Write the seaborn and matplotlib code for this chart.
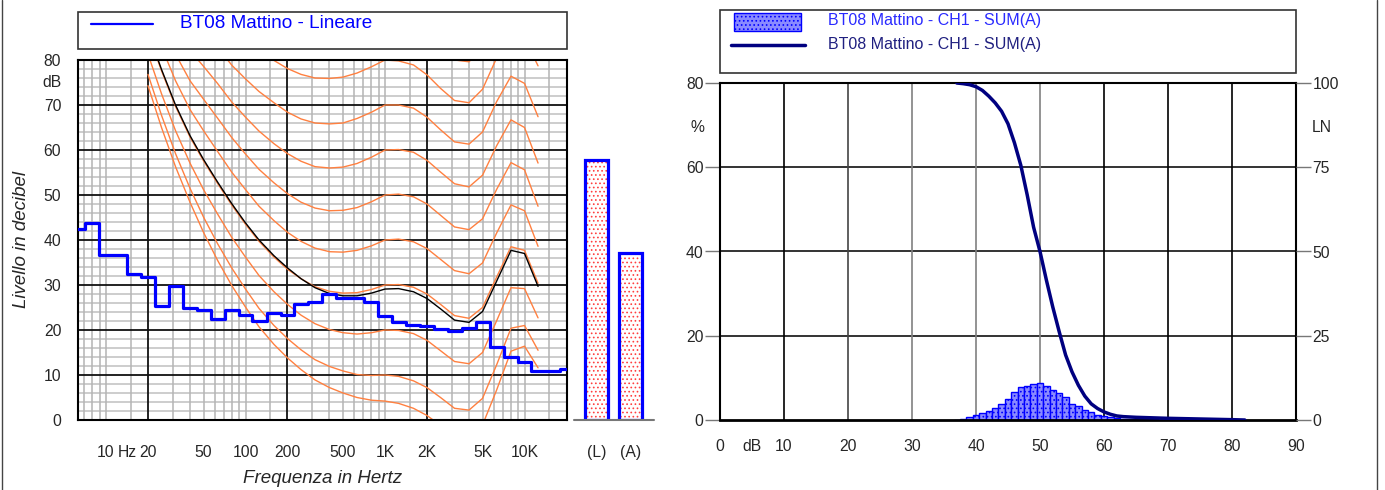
import numpy as np
import matplotlib
matplotlib.use("Agg")
import matplotlib.pyplot as plt
import matplotlib.transforms as mtrans
from matplotlib.patches import Rectangle
from matplotlib.lines import Line2D
from matplotlib.ticker import FixedLocator, NullFormatter
import seaborn as sns

sns.set_style("white")
plt.rcParams["font.family"] = ["Liberation Sans", "DejaVu Sans"]
plt.rcParams["hatch.linewidth"] = 0.7

# ---------------- data: left panel (1/3 octave spectrum) ----------------
band_centers = [6.3, 8, 10, 12.5, 16, 20, 25, 31.5, 40, 50, 63, 80, 100, 125, 160, 200,
                250, 315, 400, 500, 630, 800, 1000, 1250, 1600, 2000, 2500, 3150, 4000,
                5000, 6300, 8000, 10000, 12500, 16000, 20000]
band_levels = [42.4, 43.8, 36.7, 36.7, 32.5, 31.8, 25.4, 29.7, 24.9, 24.4, 22.4, 24.5, 23.3,
               22.0, 23.8, 23.3, 25.8, 26.3, 27.9, 27.0, 27.0, 26.3, 23.2, 21.7, 21.2, 20.8,
               20.3, 19.8, 20.5, 21.8, 16.3, 13.9, 12.8, 11.0, 11.0, 11.3]
total_labels = ["(L)", "(A)"]
total_levels = [57.8, 37.2]

# equal loudness contours
contour_freqs = [20, 25, 31.5, 40, 50, 63, 80, 100, 125, 160, 200, 250, 315, 400, 500, 630,
                 800, 1000, 1250, 1600, 2000, 2500, 3150, 4000, 5000, 6300, 8000, 10000, 12500]
contour_maf = [74.3, 65.0, 56.3, 48.4, 41.7, 35.5, 29.8, 25.1, 20.7, 16.8, 13.8, 11.2, 8.9, 7.2,
               6.0, 5.0, 4.4, 4.2, 3.7, 2.6, 1.0, -1.2, -3.6, -3.9, -1.1, 6.6, 15.3, 16.4, 11.6]
contour_10 = [76.8, 67.7, 59.2, 51.5, 45.1, 39.2, 33.7, 29.1, 24.8, 21.0, 18.1, 15.6, 13.4, 11.9,
              10.9, 10.1, 9.9, 10.0, 9.7, 8.7, 7.2, 5.0, 2.6, 2.2, 4.8, 12.2, 20.4, 21.0, 15.5]
contour_20 = [81.3, 72.5, 64.3, 57.1, 51.2, 45.8, 40.5, 36.2, 32.1, 28.5, 25.7, 23.3, 21.4, 20.1,
              19.4, 19.1, 19.4, 20.0, 19.9, 19.2, 17.7, 15.4, 13.0, 12.5, 15.0, 22.0, 29.4, 29.2, 22.7]
contour_30 = [86.0, 77.6, 69.7, 62.9, 57.6, 52.6, 47.7, 43.5, 39.7, 36.2, 33.5, 31.4, 29.6, 28.6,
              28.2, 28.3, 29.0, 30.0, 30.1, 29.5, 28.0, 25.7, 23.2, 22.6, 25.0, 31.7, 38.5, 37.7, 30.4]
contour_40 = [91.0, 82.9, 75.4, 69.0, 64.3, 59.7, 55.0, 51.2, 47.5, 44.3, 41.7, 39.7, 38.2, 37.4,
              37.3, 37.7, 38.7, 40.0, 40.2, 39.6, 38.1, 35.7, 33.2, 32.5, 34.9, 41.5, 47.8, 46.5, 38.6]
contour_50 = [96.2, 88.5, 81.3, 75.4, 71.3, 67.1, 62.7, 59.1, 55.7, 52.7, 50.3, 48.4, 47.1, 46.5,
              46.6, 47.2, 48.5, 50.0, 50.2, 49.6, 48.0, 45.5, 42.9, 42.3, 44.7, 51.2, 57.2, 55.6, 47.5]
contour_60 = [101.7, 94.4, 87.6, 82.1, 78.6, 74.8, 70.6, 67.3, 64.2, 61.4, 59.2, 57.5, 56.3, 56.0,
              56.2, 57.0, 58.4, 60.0, 60.1, 59.5, 57.7, 55.1, 52.5, 51.8, 54.4, 60.9, 66.7, 65.0, 57.1]
contour_70 = [107.6, 100.7, 94.3, 89.2, 86.4, 82.8, 78.8, 75.8, 73.0, 70.5, 68.4, 66.9, 66.0, 65.8,
              66.0, 67.0, 68.4, 70.0, 70.0, 69.3, 67.3, 64.5, 61.8, 61.3, 64.0, 70.7, 76.4, 74.8, 67.4]
contour_80 = [113.7, 107.3, 101.3, 96.6, 94.6, 91.1, 87.4, 84.7, 82.2, 79.9, 78.1, 76.8, 76.0, 75.9,
              76.2, 77.1, 78.5, 80.0, 79.8, 78.9, 76.7, 73.7, 71.0, 70.5, 73.5, 80.4, 86.3, 84.9, 78.7]
contour_90 = [120.3, 114.4, 108.7, 104.4, 103.2, 99.8, 96.3, 94.0, 91.8, 89.8, 88.1, 87.0, 86.4, 86.4,
              86.6, 87.5, 88.7, 90.0, 89.5, 88.4, 85.9, 82.7, 80.0, 79.6, 82.9, 90.1, 96.4, 95.5, 91.0]
contour_signal = [86.3, 77.9, 70.0, 63.2, 57.9, 52.9, 48.0, 43.8, 40.0, 36.5, 33.8, 31.4, 29.4, 28.1,
                  27.6, 27.6, 28.2, 29.1, 29.2, 28.5, 27.0, 24.7, 22.2, 21.7, 24.1, 30.8, 37.7, 37.0, 29.7]

x_tick_freqs = [10, 14.3, 20, 50, 100, 200, 500, 1000, 2000, 5000, 10000]
x_tick_texts = ["10", "Hz", "20", "50", "100", "200", "500", "1K", "2K", "5K", "10K"]

# ---------------- data: right panel (statistical distribution) ----------------
hist_db = list(range(37, 82))
hist_pct = [0.1, 0.2, 0.8, 1.2, 1.6, 2.1, 2.8, 3.9, 5.1, 6.7, 7.9, 8.1, 8.5, 8.9, 8.1, 7.1, 6.3,
            5.5, 3.9, 3.3, 2.4, 1.8, 1.3, 0.95, 0.8, 0.4, 0.25, 0.2, 0.15, 0.15, 0.12, 0.12, 0.1,
            0.1, 0.1, 0.1, 0.08, 0.08, 0.08, 0.06, 0.06, 0.05, 0.05, 0.04, 0.04]
ln_db = [37, 38, 39, 40, 41, 42, 43, 44, 45, 46, 47, 48, 49, 50, 51, 52, 53, 54, 55, 56, 57, 58,
         59, 60, 61, 62, 63, 65, 70, 75, 80, 82]
ln_val = [100, 99.8, 99.5, 98.9, 97.8, 96.1, 94.1, 91.6, 87.9, 82.3, 75.6, 66.8, 57.2, 50.0, 41.5,
          33.5, 26.2, 19.3, 14.3, 10.3, 7.1, 4.8, 3.4, 2.4, 1.7, 1.2, 1.0, 0.8, 0.5, 0.3, 0.1, 0.0]

legend_left = "BT08 Mattino - Lineare"
legend_right = "BT08 Mattino - CH1 - SUM(A)"

# ---------------- layout helpers ----------------
W, H = 1385, 490


def rect(x0, y0, x1, y1):
    return [x0 / W, 1 - y1 / H, (x1 - x0) / W, (y1 - y0) / H]


fig = plt.figure(figsize=(W / 100, H / 100), dpi=100)
fig.patch.set_facecolor("white")

TICK_FS = 11.3
ORANGE = "#ff8040"
BLUE = "#0000ff"
NAVY = "#000080"
HIST_FACE = "#8a8aff"

# ================= LEFT PANEL =================
ax1 = fig.add_axes(rect(78, 60, 567, 420))
ax1.set_xscale("log")

# grid
for v in range(2, 80, 2):
    if v % 10:
        ax1.axhline(v, color="#cdcdcd", lw=1.4, zorder=0.5)
for v in range(10, 80, 10):
    ax1.axhline(v, color="#111111", lw=1.3, zorder=0.9)
mults = [1, 1.5, 2, 3, 4, 5, 6, 7, 8, 9]
grid_f = [m * 10 ** k for k in range(0, 5) for m in mults if 6.3 < m * 10 ** k < 20100]
for f in grid_f:
    if f in (20, 200, 2000):
        ax1.axvline(f, color="#111111", lw=1.3, zorder=0.9)
    elif f != 20000:
        ax1.axvline(f, color="#b4b4b4", lw=1.1, zorder=0.6)

# contours
for vals in [contour_maf, contour_10, contour_20, contour_30, contour_40, contour_50,
             contour_60, contour_70, contour_80, contour_90]:
    sns.lineplot(x=contour_freqs, y=vals, ax=ax1, color=ORANGE, lw=1.0,
                 estimator=None, sort=False, legend=False, zorder=2)
sns.lineplot(x=contour_freqs, y=contour_signal, ax=ax1, color="black", lw=1.0,
             estimator=None, sort=False, legend=False, zorder=2.2)

# spectrum steps
c = np.array(band_centers, float)
inner = np.sqrt(c[:-1] * c[1:])
step_x = np.concatenate([[c[0] / 10 ** 0.05], inner, [c[-1] * 10 ** 0.05]])
step_y = list(band_levels) + [band_levels[-1]]
sns.lineplot(x=step_x, y=step_y, ax=ax1, color=BLUE, lw=2.3, drawstyle="steps-post",
             estimator=None, sort=False, legend=False, zorder=3)

ax1.set_xlim(6.3, 20160)
ax1.set_ylim(0, 80)
ax1.set_xlabel("")
ax1.set_ylabel("")
major_f = [2000, 20000]
ax1.xaxis.set_major_locator(FixedLocator(major_f))
ax1.xaxis.set_minor_locator(FixedLocator([f for f in grid_f if f not in major_f]))
ax1.xaxis.set_major_formatter(NullFormatter())
ax1.xaxis.set_minor_formatter(NullFormatter())
ax1.tick_params(axis="x", which="major", length=15.8, width=1, color="#222", direction="out")
ax1.tick_params(axis="x", which="minor", length=8.6, width=1, color="#222", direction="out")
ax1.set_yticks(range(0, 81, 10))
ax1.yaxis.set_minor_locator(FixedLocator([v for v in range(0, 81, 2) if v % 10]))
ax1.tick_params(axis="y", which="major", length=11.5, width=1, color="#444", pad=0.5,
                labelsize=TICK_FS, direction="out")
ax1.tick_params(axis="y", which="minor", length=8, width=1, color="#444", direction="out")
for s in ax1.spines.values():
    s.set_color("black")
    s.set_linewidth(1.5)
    s.set_visible(True)

blend1 = mtrans.blended_transform_factory(ax1.transData, ax1.transAxes)
for f, t in zip(x_tick_freqs, x_tick_texts):
    ax1.text(f, -0.0889, t, transform=blend1, ha="center", va="center", fontsize=TICK_FS)
blend1y = mtrans.blended_transform_factory(ax1.transAxes, ax1.transData)
ax1.text(-0.0327, 75, "dB", transform=blend1y, ha="right", va="center", fontsize=TICK_FS)

fig.text(323 / W, 1 - 478 / H, "Frequenza in Hertz", ha="center", va="center",
         fontsize=13.5, style="italic")
fig.text(22 / W, 1 - 239 / H, "Livello in decibel", ha="center", va="center",
         fontsize=13.5, style="italic", rotation=90)

# total level bars
axb = fig.add_axes(rect(574, 60, 654, 420))
sns.barplot(x=total_labels, y=total_levels, ax=axb, width=0.676, color="white",
            edgecolor="#ff4040", hatch="....", linewidth=0, saturation=1)
sns.barplot(x=total_labels, y=total_levels, ax=axb, width=0.676, fill=False,
            edgecolor=BLUE, linewidth=2.3, saturation=1)
axb.set_xlim(-0.662, 1.691)
axb.set_ylim(0, 80)
axb.set_axis_off()
axb.axhline(0, color="#777777", lw=1.5, clip_on=False)
blendb = mtrans.blended_transform_factory(axb.transData, axb.transAxes)
for i, t in enumerate(total_labels):
    axb.text(i, -0.0889, t, transform=blendb, ha="center", va="center", fontsize=TICK_FS)

# left legend
fig.add_artist(Rectangle((78 / W, 1 - 49 / H), 489 / W, 37 / H, transform=fig.transFigure,
                         fill=False, edgecolor="#333333", lw=1.2))
fig.add_artist(Line2D([91 / W, 153 / W], [1 - 24 / H, 1 - 24 / H], transform=fig.transFigure,
                      color=BLUE, lw=1.6))
fig.text(180 / W, 1 - 24 / H, legend_left, color=BLUE, fontsize=13.7, va="center", ha="left")

# ================= RIGHT PANEL =================
ax2 = fig.add_axes(rect(720, 83, 1296, 420))
for v in (20, 40, 60):
    ax2.axhline(v, color="#111111", lw=1.2, zorder=0.5)
vcols = {10: "#000000", 20: "#444444", 30: "#808080", 40: "#808080", 50: "#808080",
         60: "#000000", 70: "#000000", 80: "#000000"}
for v, col in vcols.items():
    ax2.axvline(v, color=col, lw=1.2, zorder=0.5)

sns.barplot(x=hist_db, y=hist_pct, ax=ax2, native_scale=True, width=1.0,
            color=HIST_FACE, edgecolor=BLUE, linewidth=1.0, hatch="....",
            saturation=1, errorbar=None, zorder=2)
ax2.set_xlim(0, 90)
ax2.set_ylim(0, 80)
ax2.set_xlabel("")
ax2.set_ylabel("")
ax2.set_xticks(range(0, 91, 10))
ax2.xaxis.set_major_formatter(NullFormatter())
ax2.tick_params(axis="x", length=9.4, width=1.2, color="#666666", direction="out")
ax2.set_yticks(range(0, 81, 20))
ax2.tick_params(axis="y", length=10.8, width=1, color="#777777", pad=1,
                labelsize=TICK_FS, direction="out")
for s in ax2.spines.values():
    s.set_color("black")
    s.set_linewidth(1.5)
    s.set_visible(True)
ax2.spines["bottom"].set_linewidth(2)

blend2 = mtrans.blended_transform_factory(ax2.transData, ax2.transAxes)
for v in range(0, 91, 10):
    ax2.text(v, -0.0801, str(v), transform=blend2, ha="center", va="center", fontsize=TICK_FS)
ax2.text(5, -0.0801, "dB", transform=blend2, ha="center", va="center", fontsize=TICK_FS)

ax2r = ax2.twinx()
sns.lineplot(x=ln_db, y=ln_val, ax=ax2r, color=NAVY, lw=2.5, estimator=None, sort=False,
             legend=False, zorder=3)
ax2r.set_ylim(0, 100)
ax2r.set_xlim(0, 90)
ax2r.set_ylabel("")
ax2r.set_yticks(range(0, 101, 25))
ax2r.tick_params(axis="y", length=10.8, width=1, color="#777777", pad=1,
                 labelsize=TICK_FS, direction="out")
for s in ax2r.spines.values():
    s.set_visible(False)

fig.text(697 / W, 1 - 128 / H, "%", ha="center", va="center", fontsize=TICK_FS)
fig.text(1312 / W, 1 - 128 / H, "LN", ha="left", va="center", fontsize=TICK_FS)

# right legend
fig.add_artist(Rectangle((720 / W, 1 - 73 / H), 576 / W, 63 / H, transform=fig.transFigure,
                         fill=False, edgecolor="#333333", lw=1.2))
fig.add_artist(Rectangle((734 / W, 1 - 31 / H), 67 / W, 18 / H, transform=fig.transFigure,
                         facecolor=HIST_FACE, edgecolor=BLUE, hatch="....", lw=1.0))
fig.text(828 / W, 1 - 21 / H, legend_right, color="#2a2aff", fontsize=11.5, va="center")
fig.add_artist(Line2D([731 / W, 805 / W], [1 - 45 / H, 1 - 45 / H], transform=fig.transFigure,
                      color=NAVY, lw=2.5))
fig.text(828 / W, 1 - 44 / H, legend_right, color="#202080", fontsize=11.5, va="center")

# outer frame lines
for xp in (2, 1377):
    fig.add_artist(Line2D([xp / W, xp / W], [0, 1], transform=fig.transFigure,
                          color="#444444", lw=1.0))

fig.savefig("out.png", dpi=100)
